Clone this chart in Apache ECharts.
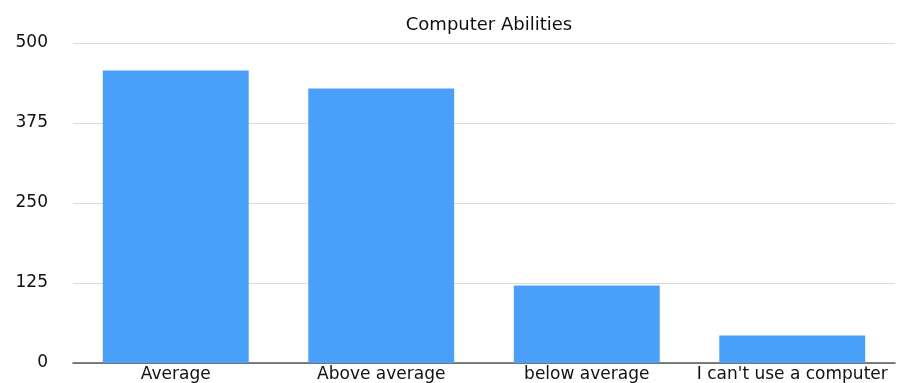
<!DOCTYPE html>
<html>
<head>
<meta charset="utf-8">
<script src="https://cdn.jsdelivr.net/npm/echarts@6/dist/echarts.min.js"></script>
<style>
  html, body { margin: 0; padding: 0; background: #fff; }
  #chartmain { width: 905px; height: 383px; }
</style>
</head>
<body>
<div id="chartmain"></div>
<script>
var categories = ['Average', 'Above average', 'below average', "I can't use a computer"];
var counts = [457, 429, 121, 43];
var yTicks = [0, 125, 250, 375, 500];

window.onload = function () {
    var option = {
        backgroundColor: '#fff',
        textStyle: { fontFamily: 'DejaVu Sans, sans-serif' },
        // 标题
        title: {
            text: 'Computer Abilities',
            left: 484,
            textAlign: 'center',
            top: 11,
            textStyle: { color: '#111', fontSize: 18, fontWeight: 'normal' }
        },
        grid: { left: 73, right: 10, top: 43, bottom: 19 },
        xAxis: {
            type: 'category',
            data: categories,
            axisTick: { show: false },
            axisLine: { lineStyle: { color: '#555', width: 1.5 } },
            axisLabel: { color: '#111', fontSize: 17, margin: 3, interval: 0, hideOverlap: false }
        },
        yAxis: {
            type: 'value',
            min: yTicks[0],
            max: yTicks[yTicks.length - 1],
            interval: 125,
            axisLine: { show: false },
            axisTick: { show: false },
            splitLine: { lineStyle: { color: '#dadada' } },
            axisLabel: { color: '#111', fontSize: 17, margin: 25 }
        },
        series: [{
            type: 'bar',
            data: counts,
            barWidth: '71%',
            itemStyle: { color: '#4a9ff8' },
            animation: false
        }]
    };
    var myChart = echarts.init(document.getElementById('chartmain'));
    myChart.setOption(option);
};
</script>
</body>
</html>
